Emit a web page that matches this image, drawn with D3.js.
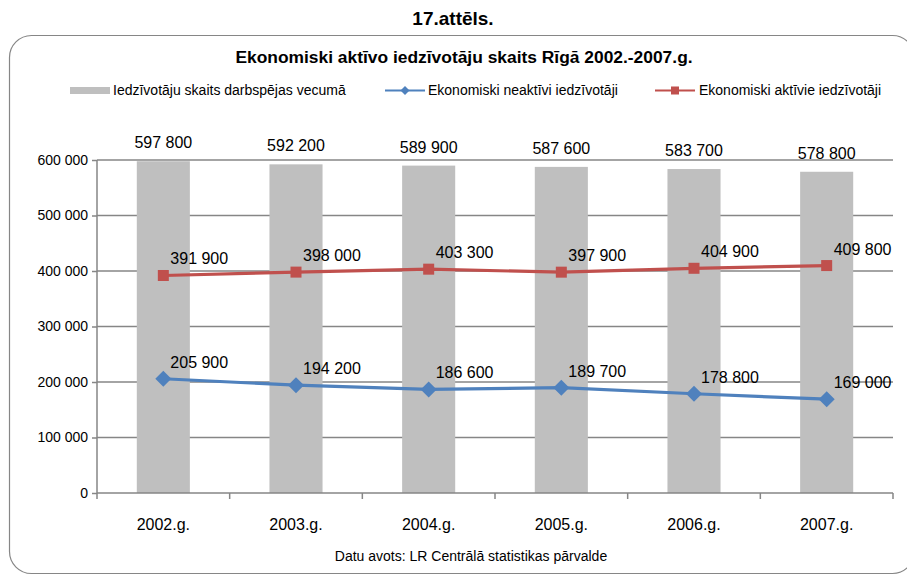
<!DOCTYPE html>
<html>
<head>
<meta charset="utf-8">
<script src="https://cdn.jsdelivr.net/npm/d3@7"></script>
<style>
  body { margin: 0; background: #fff; }
  text { font-family: "Liberation Sans Narrow", "Arial Narrow", "Liberation Sans", Arial, sans-serif; fill: #000; }
  .num { font-family: "Liberation Sans", Arial, sans-serif; }
</style>
</head>
<body>
<svg width="907" height="578"></svg>
<script>
const years = ['2002.g.', '2003.g.', '2004.g.', '2005.g.', '2006.g.', '2007.g.'];
const workingAge = [597800, 592200, 589900, 587600, 583700, 578800];
const inactive = [205900, 194200, 186600, 189700, 178800, 169000];
const active = [391900, 398000, 403300, 397900, 404900, 409800];
const yTicks = [0, 100000, 200000, 300000, 400000, 500000, 600000];

const seriesNames = ['Iedzīvotāju skaits darbspējas vecumā', 'Ekonomiski neaktīvi iedzīvotāji', 'Ekonomiski aktīvie iedzīvotāji'];

const svg = d3.select('svg');
const fmt = v => d3.format(',')(v).replace(/,/g, ' ');

const margin = {top: 160, right: 14, bottom: 85, left: 97};
const innerWidth = 907 - margin.left - margin.right;
const innerHeight = 578 - margin.top - margin.bottom;

// outer frame
svg.append('rect')
  .attr('x', 9.5).attr('y', 35.5)
  .attr('width', 905).attr('height', 538)
  .attr('rx', 22).attr('ry', 22)
  .attr('fill', 'none').attr('stroke', '#868686').attr('stroke-width', 1.2);

svg.append('text')
  .attr('x', 453).attr('y', 25)
  .attr('text-anchor', 'middle')
  .style('font-weight', 'bold').style('font-size', '19px')
  .text('17.attēls.');

svg.append('text')
  .attr('x', 464).attr('y', 63)
  .attr('text-anchor', 'middle')
  .style('font-weight', 'bold').style('font-size', '17.4px')
  .text('Ekonomiski aktīvo iedzīvotāju skaits Rīgā 2002.-2007.g.');

const xScale = d3.scaleBand().domain(years).range([0, innerWidth]).paddingInner(0.6).paddingOuter(0.3);
const xBand = d3.scaleBand().domain(years).range([0, innerWidth]);
const yScale = d3.scaleLinear().domain([0, 600000]).range([innerHeight, 0]);

const g = svg.append('g').attr('transform', `translate(${margin.left},${margin.top})`);

// gridlines
g.selectAll('.grid').data(yTicks.slice(1)).join('line')
  .attr('x1', 0).attr('x2', innerWidth)
  .attr('y1', d => yScale(d)).attr('y2', d => yScale(d))
  .attr('stroke', '#868686').attr('stroke-width', 1.3);

// bars
g.selectAll('.bar').data(workingAge).join('rect')
  .attr('x', (d, i) => xScale(years[i]))
  .attr('y', d => yScale(d))
  .attr('width', xScale.bandwidth())
  .attr('height', d => innerHeight - yScale(d))
  .attr('fill', '#BFBFBF');

g.selectAll('.barlabel').data(workingAge).join('text')
  .attr('class', 'num')
  .attr('x', (d, i) => xBand(years[i]) + xBand.bandwidth() / 2)
  .attr('y', d => yScale(d) - 13)
  .attr('text-anchor', 'middle')
  .style('font-size', '16px')
  .text(fmt);

// axes
const yAxis = d3.axisLeft(yScale).tickValues(yTicks).tickSize(5).tickPadding(4).tickFormat(fmt);
const yAxisG = g.append('g').call(yAxis);
yAxisG.selectAll('path, line').attr('stroke', '#868686').attr('stroke-width', 1.5);
yAxisG.select('.domain').attr('d', `M0,${innerHeight}V0`);
yAxisG.selectAll('text').attr('class', 'num').style('font-size', '14px').style('font-family', null);

const xAxisG = g.append('g').attr('transform', `translate(0,${innerHeight})`);
xAxisG.append('line').attr('x1', 0).attr('x2', innerWidth)
  .attr('stroke', '#868686').attr('stroke-width', 1.5);
xAxisG.selectAll('.tick').data(d3.range(years.length + 1)).join('line')
  .attr('x1', i => i * xBand.bandwidth()).attr('x2', i => i * xBand.bandwidth())
  .attr('y1', 0).attr('y2', 6)
  .attr('stroke', '#868686').attr('stroke-width', 1.5);
xAxisG.selectAll('.xl').data(years).join('text')
  .attr('x', d => xBand(d) + xBand.bandwidth() / 2)
  .attr('y', 37)
  .attr('text-anchor', 'middle')
  .style('font-size', '16px')
  .text(d => d);

// lines
const cx = i => xBand(years[i]) + xBand.bandwidth() / 2;
const line = d3.line().x((d, i) => cx(i)).y(d => yScale(d));

g.append('path').attr('d', line(active))
  .attr('fill', 'none').attr('stroke', '#C0504D').attr('stroke-width', 3.2);
g.selectAll('.sq').data(active).join('rect')
  .attr('x', (d, i) => cx(i) - 5.5).attr('y', d => yScale(d) - 5.5)
  .attr('width', 11).attr('height', 11).attr('fill', '#C0504D');

g.append('path').attr('d', line(inactive))
  .attr('fill', 'none').attr('stroke', '#4F81BD').attr('stroke-width', 3.2);
g.selectAll('.dm').data(inactive).join('path')
  .attr('d', (d, i) => `M${cx(i)},${yScale(d) - 8}l8,8l-8,8l-8,-8z`)
  .attr('fill', '#4F81BD');

[active, inactive].forEach(arr => {
  g.selectAll(null).data(arr).join('text')
    .attr('class', 'num')
    .attr('x', (d, i) => cx(i) + 7)
    .attr('y', d => yScale(d) - 11)
    .style('font-size', '16px')
    .text(fmt);
});

// legend
const lg = svg.append('g').style('font-size', '14px');
lg.append('rect').attr('x', 70).attr('y', 87).attr('width', 40).attr('height', 7).attr('fill', '#BFBFBF');
lg.append('text').attr('x', 113).attr('y', 95).text(seriesNames[0]);

lg.append('line').attr('x1', 385).attr('x2', 425).attr('y1', 90.5).attr('y2', 90.5)
  .attr('stroke', '#4F81BD').attr('stroke-width', 2);
lg.append('path').attr('d', 'M405,86l4.5,4.5l-4.5,4.5l-4.5,-4.5z').attr('fill', '#4F81BD');
lg.append('text').attr('x', 428).attr('y', 95).text(seriesNames[1]);

lg.append('line').attr('x1', 655).attr('x2', 695).attr('y1', 90.5).attr('y2', 90.5)
  .attr('stroke', '#C0504D').attr('stroke-width', 2);
lg.append('rect').attr('x', 671).attr('y', 86.5).attr('width', 8).attr('height', 8).attr('fill', '#C0504D');
lg.append('text').attr('x', 699).attr('y', 95).text(seriesNames[2]);

svg.append('text')
  .attr('x', 471).attr('y', 561)
  .attr('text-anchor', 'middle')
  .style('font-size', '14px')
  .text('Datu avots: LR Centrālā statistikas pārvalde');
</script>
</body>
</html>
